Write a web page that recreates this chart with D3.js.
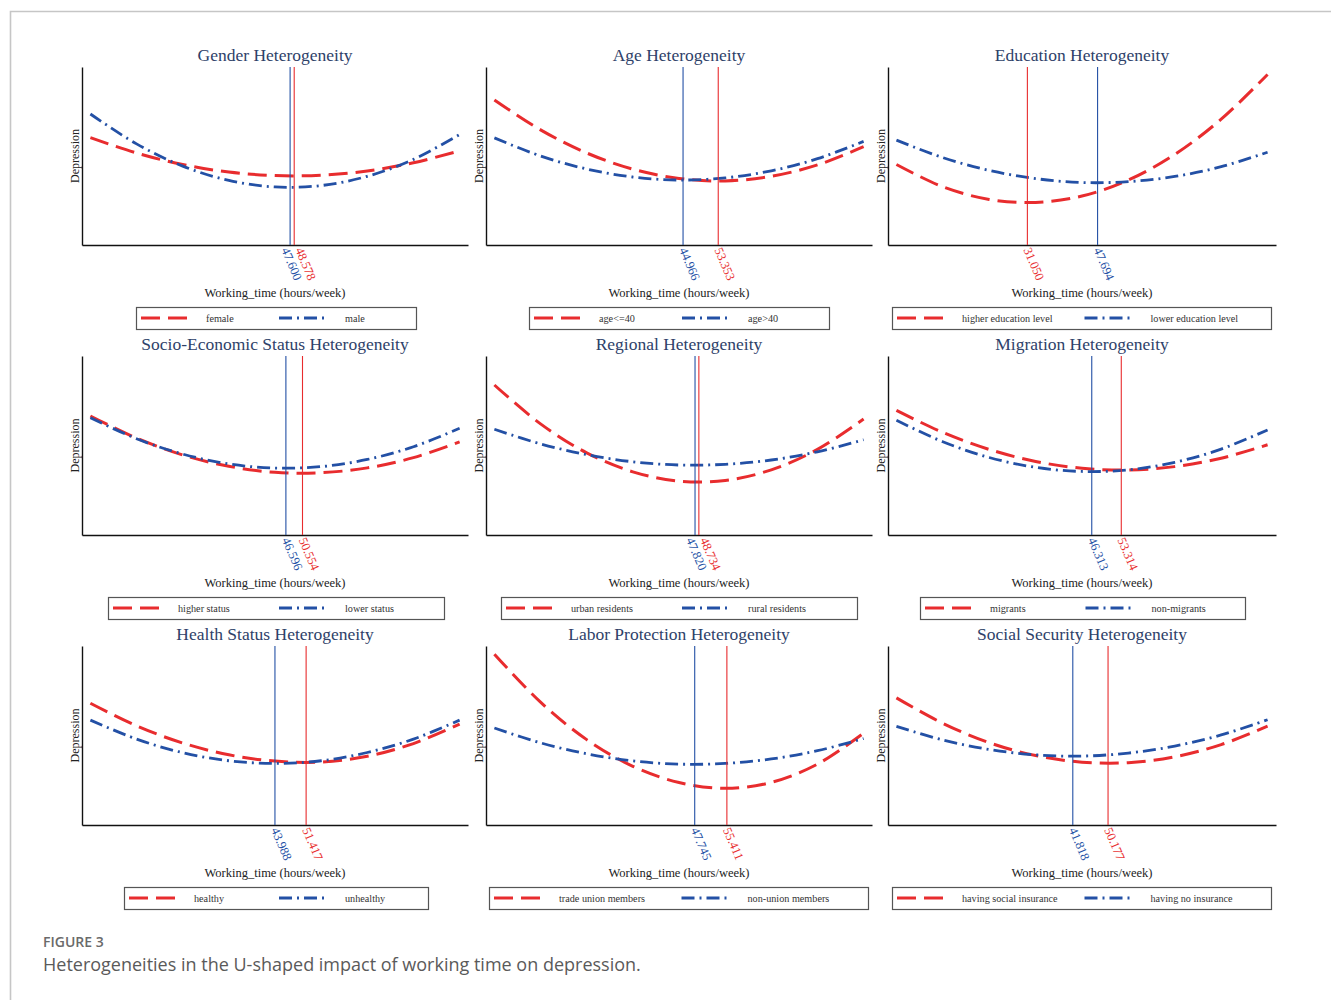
<!DOCTYPE html>
<html>
<head>
<meta charset="utf-8">
<script src="https://cdn.jsdelivr.net/npm/d3@7"></script>
<style>
  body { margin: 0; background: #fff; }
  svg { display: block; }
</style>
</head>
<body>
<script>
// Working time (hours/week) at which each fitted curve is sampled
const hours = [0, 11, 22, 33, 44, 55, 66, 77, 88];

// Panel titles
const titles = [
  "Gender Heterogeneity", "Age Heterogeneity", "Education Heterogeneity",
  "Socio-Economic Status Heterogeneity", "Regional Heterogeneity", "Migration Heterogeneity",
  "Health Status Heterogeneity", "Labor Protection Heterogeneity", "Social Security Heterogeneity"
];

// Group names (red dashed group first, blue dash-dot group second)
const redGroups = ["female", "age<=40", "higher education level", "higher status", "urban residents",
  "migrants", "healthy", "trade union members", "having social insurance"];
const blueGroups = ["male", "age>40", "lower education level", "lower status", "rural residents",
  "non-migrants", "unhealthy", "non-union members", "having no insurance"];

// Turning points (hours/week) of the U-shaped curves
const redTurning = [48.578, 53.353, 31.050, 50.554, 48.734, 53.314, 51.417, 55.411, 50.177];
const blueTurning = [47.600, 44.966, 47.694, 46.596, 47.820, 46.313, 43.988, 47.745, 41.818];

// Predicted depression (relative scale 0-100) at each sampled hour
const female      = [60.3, 51.7, 45.2, 41.0, 39.0, 39.2, 41.6, 46.2, 52.9];
const male        = [73.6, 56.8, 44.3, 36.3, 32.6, 33.4, 38.6, 48.1, 62.1];
const ageYoung    = [81.5, 64.7, 51.7, 42.6, 37.4, 36.0, 38.6, 45.0, 55.2];
const ageOld      = [60.2, 50.0, 42.7, 38.2, 36.5, 37.7, 41.7, 48.5, 58.2];
const eduHigher   = [45.2, 32.7, 25.6, 23.9, 27.5, 36.5, 50.9, 70.7, 95.8];
const eduLower    = [58.9, 49.1, 41.9, 37.3, 35.1, 35.6, 38.5, 44.0, 52.1];
const sesHigher   = [66.5, 54.1, 44.7, 38.4, 35.0, 34.8, 37.5, 43.2, 52.0];
const sesLower    = [65.5, 53.8, 45.2, 39.7, 37.4, 38.2, 42.2, 49.3, 59.6];
const urban       = [83.8, 62.1, 45.9, 35.3, 30.1, 30.5, 36.4, 47.8, 64.8];
const rural       = [59.1, 50.9, 44.9, 40.9, 39.1, 39.5, 41.9, 46.5, 53.2];
const migrants    = [69.6, 57.3, 47.8, 41.1, 37.3, 36.3, 38.2, 42.9, 50.4];
const nonMigrants = [64.1, 52.1, 43.3, 37.8, 35.5, 36.4, 40.6, 48.0, 58.7];
const healthy     = [68.0, 55.4, 45.8, 39.2, 35.7, 35.2, 38.4, 45.5, 56.4];
const unhealthy   = [58.6, 48.0, 40.4, 35.9, 34.4, 35.9, 40.5, 48.0, 58.6];
const union       = [95.4, 68.6, 47.7, 32.8, 23.7, 20.5, 23.8, 34.0, 51.3];
const nonUnion    = [54.2, 45.9, 39.8, 35.8, 34.0, 34.4, 36.9, 41.5, 48.3];
const insured     = [71.0, 56.8, 46.0, 38.8, 35.1, 34.8, 38.1, 44.9, 55.2];
const uninsured   = [55.1, 47.5, 42.2, 39.2, 38.5, 40.2, 44.1, 50.3, 58.8];

const redSeries = [female, ageYoung, eduHigher, sesHigher, urban, migrants, healthy, union, insured];
const blueSeries = [male, ageOld, eduLower, sesLower, rural, nonMigrants, unhealthy, nonUnion, uninsured];

const xTitle = "Working_time (hours/week)";
const yTitle = "Depression";

// ---- layout ----
const W = 1331, H = 1000;
const RED = "#e82c2e", BLUE = "#2350a5", TITLE = "#2e4169";
const SERIF = "'Liberation Serif', 'Times New Roman', serif";
const colX = [[82, 468], [486, 872], [888, 1276]];
const rowY = [[67, 245], [356, 535], [646, 825]];
const legendX = [[136, 416], [529, 829], [892, 1271], [108, 444], [501, 857], [920, 1245],
  [124, 428], [489, 868], [892, 1271]];
const fmt = d3.format(".3f");

const svg = d3.select("body").append("svg").attr("width", W).attr("height", H);

// figure frame
svg.append("path")
  .attr("d", `M10.5,${H} V11.5 H${W}`)
  .attr("fill", "none").attr("stroke", "#c6c6c6").attr("stroke-width", 1.6);

titles.forEach((title, i) => {
  const c = i % 3, r = Math.floor(i / 3);
  const [x0, x1] = colX[c];
  const [yt, yb] = rowY[r];
  const x = d3.scaleLinear().domain([-2, 90]).range([x0, x1]);
  const y = d3.scaleLinear().domain([0, 100]).range([yb, yt]);
  const g = svg.append("g");

  g.append("text")
    .attr("x", (x0 + x1) / 2).attr("y", yt - 6)
    .attr("text-anchor", "middle")
    .attr("font-family", SERIF).attr("font-size", 17.5).attr("fill", TITLE)
    .text(title);

  // axes: plain lines, no ticks
  g.append("g").attr("transform", `translate(0,${yb})`)
    .call(d3.axisBottom(x).tickValues([]).tickSizeOuter(0))
    .call(s => s.select(".domain").attr("stroke", "#111").attr("stroke-width", 1.4));
  g.append("g").attr("transform", `translate(${x0},0)`)
    .call(d3.axisLeft(y).tickValues([]).tickSizeOuter(0))
    .call(s => s.select(".domain").attr("stroke", "#111").attr("stroke-width", 1.4));

  g.append("text")
    .attr("transform", `translate(${x0 - 3},${(yt + yb) / 2}) rotate(-90)`)
    .attr("text-anchor", "middle")
    .attr("font-family", SERIF).attr("font-size", 12).attr("fill", "#222")
    .text(yTitle);

  g.append("text")
    .attr("x", (x0 + x1) / 2).attr("y", yb + 52)
    .attr("text-anchor", "middle")
    .attr("font-family", SERIF).attr("font-size", 12.5).attr("fill", "#222")
    .text(xTitle);

  // fitted curves
  const line = d3.line()
    .x(d => x(d[0])).y(d => y(d[1]))
    .curve(d3.curveCatmullRom.alpha(0.5));
  g.append("path")
    .attr("d", line(hours.map((h, k) => [h, redSeries[i][k]])))
    .attr("fill", "none").attr("stroke", RED).attr("stroke-width", 3)
    .attr("stroke-dasharray", "19,8");
  g.append("path")
    .attr("d", line(hours.map((h, k) => [h, blueSeries[i][k]])))
    .attr("fill", "none").attr("stroke", BLUE).attr("stroke-width", 2.8)
    .attr("stroke-dasharray", "13,5,2,5");

  // turning-point markers
  const marks = [
    { v: blueTurning[i], color: BLUE },
    { v: redTurning[i], color: RED }
  ];
  marks.forEach(m => { m.px = x(m.v); m.lx = m.px; });
  const gap = 14;
  const [a, b] = marks[0].px <= marks[1].px ? marks : [marks[1], marks[0]];
  if (b.px - a.px < gap) {
    const mid = (a.px + b.px) / 2;
    a.lx = mid - gap / 2;
    b.lx = mid + gap / 2;
  }
  marks.forEach(m => {
    g.append("line")
      .attr("x1", m.px).attr("x2", m.px).attr("y1", yt).attr("y2", yb)
      .attr("stroke", m.color).attr("stroke-width", 1.1);
    g.append("text")
      .attr("transform", `translate(${m.lx},${yb + 3}) rotate(67)`)
      .attr("dy", "0.35em")
      .attr("font-family", SERIF).attr("font-size", 12.5).attr("fill", m.color)
      .text(fmt(m.v));
  });

  // legend
  const [lx0, lx1] = legendX[i];
  const ly = yb + 62, lh = 22, cy = ly + lh / 2;
  const lg = g.append("g");
  lg.append("rect")
    .attr("x", lx0 + 0.5).attr("y", ly + 0.5)
    .attr("width", lx1 - lx0).attr("height", lh)
    .attr("fill", "#fff").attr("stroke", "#555").attr("stroke-width", 1.2);
  const t1 = lx0 + 70, t2 = lx0 + (lx1 - lx0) / 2 + 69;
  lg.append("line").attr("x1", lx0 + 5).attr("x2", lx0 + 51).attr("y1", cy).attr("y2", cy)
    .attr("stroke", RED).attr("stroke-width", 3).attr("stroke-dasharray", "19,8");
  lg.append("line").attr("x1", t2 - 66).attr("x2", t2 - 20).attr("y1", cy).attr("y2", cy)
    .attr("stroke", BLUE).attr("stroke-width", 2.8).attr("stroke-dasharray", "13,5,2,5");
  lg.append("text").attr("x", t1).attr("y", cy + 3.5)
    .attr("font-family", SERIF).attr("font-size", 10.2).attr("fill", "#333")
    .text(redGroups[i]);
  lg.append("text").attr("x", t2).attr("y", cy + 3.5)
    .attr("font-family", SERIF).attr("font-size", 10.2).attr("fill", "#333")
    .text(blueGroups[i]);
});

// caption
svg.append("text")
  .attr("x", 43).attr("y", 947)
  .attr("font-family", "'Open Sans', sans-serif").attr("font-weight", 600)
  .attr("font-size", 14).attr("fill", "#6a6a6a")
  .text("FIGURE 3");
svg.append("text")
  .attr("x", 43).attr("y", 971)
  .attr("font-family", "'Open Sans', sans-serif").attr("font-weight", 400)
  .attr("font-size", 18).attr("fill", "#5a5a5a")
  .text("Heterogeneities in the U-shaped impact of working time on depression.");
</script>
</body>
</html>
